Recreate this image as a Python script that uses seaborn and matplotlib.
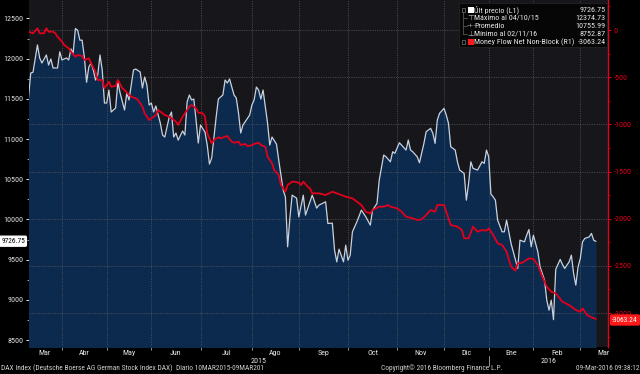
import matplotlib
matplotlib.use("Agg")
import matplotlib.pyplot as plt
import matplotlib.transforms as mtrans
from matplotlib import font_manager
from matplotlib.patches import FancyBboxPatch, Rectangle
from matplotlib.ticker import MultipleLocator, FixedLocator, NullFormatter, FixedFormatter
import seaborn as sns
import pandas as pd

# ---------------- data (trading-day index, value) ----------------
px_idx = [0, 1, 2, 4, 5, 6, 8, 9, 10, 11, 13, 14, 15, 17, 18, 19, 20, 21, 22, 23,
          24, 25, 26, 27, 28, 29, 30, 31, 32, 33, 34, 35, 36, 37, 39, 40, 41, 43, 44, 45,
          47, 48, 50, 51, 52, 53, 54, 55, 56, 57, 59, 60, 61, 63, 64, 65, 66, 67, 69, 70,
          71, 72, 73, 74, 75, 76, 77, 79, 80, 81, 82, 84, 85, 87, 88, 89, 90, 92, 93, 94,
          95, 96, 99, 100, 101, 102, 103, 104, 105, 107, 108, 109, 111, 112, 114, 115, 116, 117, 118, 120,
          121, 123, 124, 127, 129, 130, 133, 134, 136, 137, 138, 139, 141, 142, 143, 144, 145, 147, 149, 151,
          153, 154, 156, 157, 159, 160, 162, 163, 164, 166, 167, 169, 170, 171, 172, 174, 175, 177, 178, 180,
          181, 182, 183, 184, 186, 187, 188, 189, 191, 192, 193, 195, 196, 197, 198, 199, 201, 203, 204, 205,
          206, 207, 208, 209, 210, 212, 213, 214, 216, 217, 219, 220, 222, 223, 224, 225, 226, 228, 229, 231,
          232, 233, 234, 235, 236, 238, 239, 240, 242, 243, 244, 245, 246, 247, 248, 249, 251, 252, 253, 254]
px_val = [11510, 11822, 11830, 12171, 12009, 11946, 12046, 11921, 11996, 11884, 11884, 12085, 11984, 12009, 11984, 12121, 12071, 12375, 12354, 12230,
          12230, 12018, 11706, 11896, 11946, 11859, 11734, 11797, 12046, 11859, 11448, 11448, 11610, 11336, 11386, 11710, 11573, 11361, 11573, 11486,
          11859, 11871, 11834, 11635, 11772, 11672, 11423, 11448, 11336, 11411, 11199, 11050, 11025, 11274, 11336, 11025, 11075, 10987, 11100, 11050,
          11461, 11548, 11486, 11498, 11237, 10950, 11174, 11087, 10925, 10689, 10763, 11274, 11498, 11548, 11734, 11697, 11747, 11548, 11511, 11324,
          11075, 11174, 11299, 11423, 11486, 11647, 11610, 11498, 11610, 11199, 10925, 11025, 10938, 10739, 10365, 10278, 9659, 10016, 10302, 10265,
          10032, 10302, 10054, 10302, 10141, 10178, 10219, 9950, 9954, 9618, 9472, 9630, 9472, 9680, 9493, 9555, 9846, 9970, 10116, 10032,
          9929, 10116, 10199, 10489, 10801, 10780, 10717, 10842, 10822, 10954, 10925, 10863, 10988, 10863, 10842, 10780, 10705, 10946, 11091, 11133,
          11071, 10946, 11237, 11320, 11382, 11299, 11195, 10904, 10863, 10717, 10614, 10573, 10240, 10448, 10717, 10635, 10614, 10717, 10697, 10863,
          10780, 10315, 10281, 10240, 9991, 9846, 9846, 9991, 9701, 9597, 9390, 9742, 9721, 9804, 9875, 9659, 9804, 9597, 9410, 9244,
          8995, 8871, 8995, 8753, 9378, 9503, 9441, 9390, 9472, 9555, 9328, 9182, 9410, 9514, 9721, 9763, 9783, 9826, 9742, 9726.75]

mf_idx = [0, 2, 4, 5, 7, 8, 9, 11, 12, 13, 15, 16, 18, 19, 21, 22, 24, 25, 27, 28,
          30, 31, 33, 34, 36, 37, 39, 40, 42, 43, 45, 46, 48, 49, 51, 52, 54, 55, 57, 58,
          60, 61, 63, 64, 66, 67, 69, 70, 72, 73, 75, 76, 78, 79, 80, 82, 83, 85, 86, 88,
          89, 91, 92, 94, 95, 97, 98, 100, 101, 103, 104, 106, 107, 109, 110, 112, 113, 115, 116, 118,
          119, 121, 122, 123, 125, 126, 127, 130, 133, 136, 138, 140, 142, 145, 147, 149, 151, 153, 154, 157,
          159, 161, 162, 165, 167, 169, 172, 174, 176, 178, 180, 182, 183, 186, 187, 189, 192, 194, 195, 197,
          199, 201, 203, 205, 206, 208, 210, 212, 214, 216, 218, 219, 221, 224, 226, 228, 230, 232, 234, 236,
          239, 242, 245, 247, 248, 250, 252, 254]
mf_val = [-18, -35, 18, -35, -35, 18, -18, -18, -35, -71, -124, -159, -194, -230, -283, -265, -276, -318, -300, -353,
          -442, -530, -530, -618, -548, -601, -594, -530, -618, -636, -689, -707, -724, -742, -813, -883, -954, -936, -901, -848,
          -883, -901, -919, -936, -972, -1007, -919, -883, -813, -795, -830, -877, -883, -919, -1095, -1201, -1166, -1137, -1148, -1131,
          -1124, -1184, -1195, -1184, -1219, -1208, -1230, -1222, -1208, -1195, -1219, -1237, -1343, -1413, -1484, -1537, -1643, -1714, -1643, -1608,
          -1608, -1619, -1643, -1608, -1661, -1678, -1731, -1731, -1749, -1714, -1731, -1749, -1767, -1784, -1820, -1855, -1926, -1943, -1908, -1873,
          -1873, -1855, -1873, -1890, -1926, -1979, -1996, -2014, -2007, -1961, -1908, -1926, -1855, -1855, -1926, -2067, -2085, -2120, -2208, -2208,
          -2085, -2138, -2120, -2127, -2102, -2173, -2261, -2279, -2350, -2509, -2551, -2473, -2467, -2420, -2427, -2491, -2615, -2721, -2774, -2791,
          -2880, -2915, -2968, -2986, -2950, -3021, -3045, -3063.24]

month_labels = ["Mar", "Abr", "May", "Jun", "Jul", "Ago", "Sep", "Oct", "Nov", "Dic", "Ene", "Feb", "Mar"]
month_start = [0, 16, 36, 56, 78, 101, 122, 144, 166, 187, 207, 227, 248, 269]
year_labels = ["2015", "2016"]
year_break = 207

legend_labels = ["Últ precio (L1)", "Máximo al 04/10/15", "Promedio", "Mínimo al 02/11/16",
                 "Money Flow Net Non-Block (R1)"]
legend_values = ["9726.75", "12374.73", "10755.99", "8752.87", "-3063.24"]

footer_left = "DAX Index (Deutsche Boerse AG German Stock Index DAX)  Diario 10MAR2015-09MAR201"
footer_mid = "Copyright© 2016 Bloomberg Finance L.P."
footer_right = "09-Mar-2016 09:38:12"

# ---------------- style ----------------
sns.set_theme(style="dark")
installed = {f.name for f in font_manager.fontManager.ttflist}
FONT = "DejaVu Sans"
for cand in ["Liberation Sans Narrow", "Roboto Condensed", "DejaVu Sans Condensed", "Open Sans Condensed"]:
    if cand in installed:
        FONT = cand
        break
plt.rcParams["font.family"] = [FONT, "DejaVu Sans"]
plt.rcParams["axes.unicode_minus"] = False

W, H = 640, 374
BG = "#000000"
PLOT_BG = "#17171b"
NAVY = "#0c2a4e"
WHITE_LINE = "#c8d2df"
RED = "#e2001c"
GRID = "#55555f"
TXT = "#e6e6e6"

fig = plt.figure(figsize=(W / 100, H / 100), dpi=100)
fig.patch.set_facecolor(BG)

# calibrate font size so the footer spans its width in the reference (~265 px)
renderer = fig.canvas.get_renderer()
_t = fig.text(0, 0, footer_left, fontsize=10)
_w = _t.get_window_extent(renderer).width
_t.remove()
FS = 10 * 262 / _w
FS = min(FS, 6.0)


def fx(x):
    return x / W


def fy(y):
    return 1 - y / H


ax = fig.add_axes([fx(28.5), fy(347), fx(608) - fx(28.5), 347 / H])
ax.set_facecolor(PLOT_BG)
ax2 = ax.twinx()

xmax = 259.4
ax.set_xlim(0, xmax)
ax.set_ylim(8413, 12730)
ax2.set_ylim(-3360, 318)

df_px = pd.DataFrame({"idx": px_idx, "val": px_val})
df_mf = pd.DataFrame({"idx": mf_idx, "val": mf_val})

ax.fill_between(df_px["idx"], df_px["val"], 8000, color=NAVY, lw=0, zorder=1)

# grid: vertical at month boundaries, horizontal at right-axis ticks
boundaries = [s - 1 for s in month_start[1:-1]]
for b in boundaries:
    ax.axvline(b, color=GRID, lw=0.6, ls=(0, (1.2, 1.6)), zorder=2)
blend = mtrans.blended_transform_factory(ax.transAxes, ax2.transData)
for v in range(-3000, 1, 500):
    ax.plot([0, 1], [v, v], transform=blend, color=GRID, lw=0.6, ls=(0, (1.2, 1.6)), zorder=2)

sns.lineplot(data=df_px, x="idx", y="val", ax=ax, color=WHITE_LINE, lw=0.9, zorder=4)
sns.lineplot(data=df_mf, x="idx", y="val", ax=ax2, color=RED, lw=1.3, zorder=4)

for a in (ax, ax2):
    a.set_xlabel("")
    a.set_ylabel("")
    a.grid(False)
    for s in a.spines.values():
        s.set_visible(False)
ax2.spines["right"].set_visible(True)
ax2.spines["right"].set_color(RED)
ax2.spines["right"].set_linewidth(1.0)

# left axis ticks
ax.set_yticks(list(range(8500, 12501, 500)))
ax.yaxis.set_minor_locator(MultipleLocator(250))
ax.tick_params(axis="y", which="major", left=True, length=2.5, width=0.7, colors=TXT,
               labelsize=FS * 1.08, pad=1)
ax.tick_params(axis="y", which="minor", left=True, length=1.3, width=0.5, color=TXT)

# right axis ticks
ax2.set_yticks(list(range(-3000, 1, 500)))
ax2.yaxis.set_minor_locator(MultipleLocator(250))
ax2.tick_params(axis="y", which="major", right=True, length=2.5, width=0.7, colors=RED,
                labelsize=FS * 1.08, pad=1.5)
ax2.tick_params(axis="y", which="minor", right=True, length=1.3, width=0.5, color=RED)

# x axis: ticks at month boundaries, labels at month centers
ax.xaxis.set_major_locator(FixedLocator(boundaries))
ax.xaxis.set_major_formatter(NullFormatter())
edges = [s - 1 for s in month_start]
centers = [(edges[i] + edges[i + 1]) / 2 for i in range(len(month_labels))]
ax.xaxis.set_minor_locator(FixedLocator(centers))
ax.xaxis.set_minor_formatter(FixedFormatter(month_labels))
ax.tick_params(axis="x", which="major", bottom=True, length=2.5, width=0.6, color="#aaaaaa")
ax.tick_params(axis="x", which="minor", bottom=True, length=0, labelsize=FS * 1.08,
               labelcolor=TXT, pad=2.5)

# year labels + separator
xblend = mtrans.blended_transform_factory(ax.transData, fig.transFigure)
yb = year_break - 1
ax.text((0 + yb) / 2, fy(361), year_labels[0], transform=xblend, ha="center", va="center",
        fontsize=FS * 1.08, color=TXT)
ax.text((yb + xmax) / 2, fy(361), year_labels[1], transform=xblend, ha="center", va="center",
        fontsize=FS * 1.08, color=TXT)
ax.plot([yb, yb], [fy(356), fy(366)], transform=xblend, color="#aaaaaa", lw=0.6, clip_on=False)

# last value tags
fig.text(fx(13), fy(241.2), legend_values[0], ha="center", va="center", fontsize=FS, color="#000000",
         bbox=dict(boxstyle="round,pad=0.2,rounding_size=0.15", fc="#ffffff", ec="#ffffff"), zorder=10)
fig.text(fx(625), fy(320), legend_values[4], ha="center", va="center", fontsize=FS, color="#ffffff",
         bbox=dict(boxstyle="round,pad=0.2,rounding_size=0.15", fc="#ff1a1a", ec="#ff1a1a"), zorder=10)

# legend box
fig.patches.append(FancyBboxPatch((fx(459), fy(47)), fx(607) - fx(459), (47 - 3) / H,
                                  boxstyle="square,pad=0", transform=fig.transFigure,
                                  fc="#050505", ec="#2a2a2a", lw=0.5, alpha=0.92, zorder=8))
rows_y = [10.0, 17.5, 25.5, 33.5, 42.0]
for i, (lab, val) in enumerate(zip(legend_labels, legend_values)):
    fig.text(fx(474.5), fy(rows_y[i]), lab, ha="left", va="center", fontsize=FS * 1.08, color=TXT, zorder=9)
    fig.text(fx(605.5), fy(rows_y[i]), val, ha="right", va="center", fontsize=FS * 1.08, color=TXT, zorder=9)
# legend glyphs
for yy, col in ((rows_y[0], "#ffffff"), (rows_y[4], "#ff1a1a")):
    fig.patches.append(Rectangle((fx(467.5), fy(yy + 3)), 6 / W, 6 / H, transform=fig.transFigure,
                                 fc=col, ec=col, lw=0, zorder=9))
    fig.patches.append(Rectangle((fx(461.5), fy(yy + 1.5)), 3 / W, 3 / H, transform=fig.transFigure,
                                 fc="none", ec="#777777", lw=0.5, zorder=9))
fig.lines.append(plt.Line2D([fx(463), fx(463)], [fy(rows_y[0] + 1.5), fy(rows_y[3])],
                            transform=fig.transFigure, color="#666666", lw=0.5, zorder=9))
for yy in rows_y[1:4]:
    fig.lines.append(plt.Line2D([fx(463), fx(467)], [fy(yy), fy(yy)], transform=fig.transFigure,
                                color="#666666", lw=0.5, zorder=9))
fig.text(fx(471), fy(rows_y[1]), "⊤", ha="center", va="center", fontsize=FS, color="#bbbbbb",
         family="DejaVu Sans", zorder=9)
fig.text(fx(471), fy(rows_y[2]), "-+-", ha="center", va="center", fontsize=FS * 0.8, color="#bbbbbb",
         family="DejaVu Sans", zorder=9)
fig.text(fx(471), fy(rows_y[3]), "⊥", ha="center", va="center", fontsize=FS, color="#bbbbbb",
         family="DejaVu Sans", zorder=9)

# footer
fig.text(fx(1), fy(368), footer_left, ha="left", va="center", fontsize=FS, color="#cfcfcf")
fig.text(fx(442), fy(368), footer_mid, ha="center", va="center", fontsize=FS, color="#cfcfcf")
fig.text(fx(639), fy(368), footer_right, ha="right", va="center", fontsize=FS, color="#cfcfcf")

fig.savefig("out.png", dpi=100, facecolor=BG)
